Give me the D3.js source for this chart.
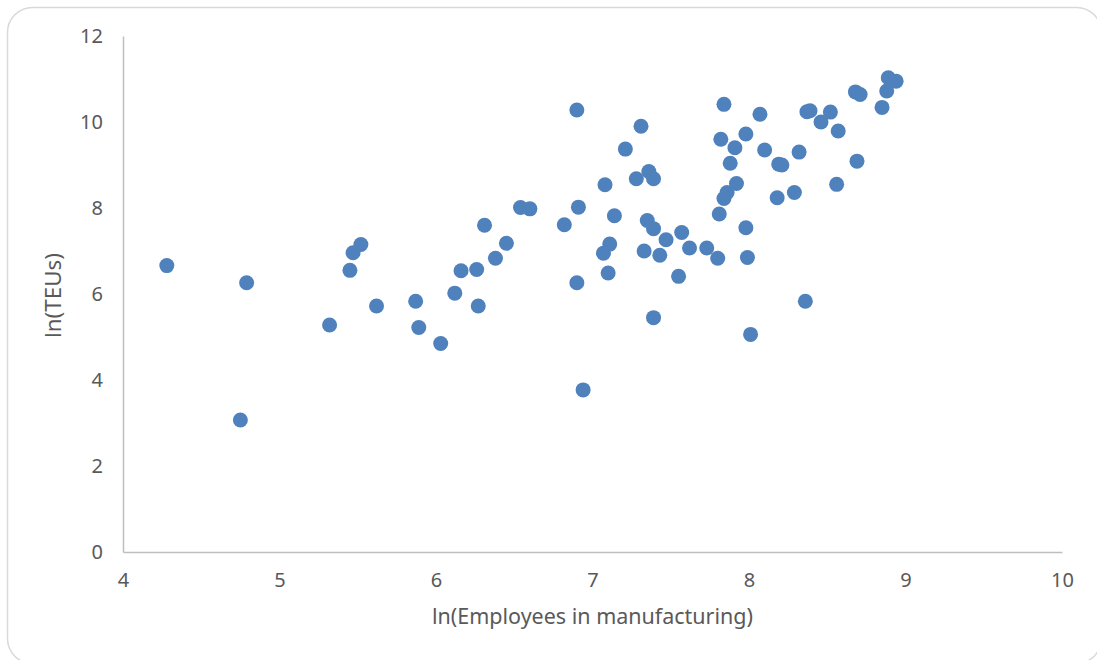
<!DOCTYPE html>
<html>
<head>
<meta charset="utf-8">
<script src="https://cdn.jsdelivr.net/npm/d3@7"></script>
<style>
  html, body { margin: 0; padding: 0; background: #ffffff; }
  svg { display: block; }
  text { font-family: "Noto Sans", "Open Sans", sans-serif; fill: #595959; }
</style>
</head>
<body>
<svg id="chart" width="1097" height="660"></svg>
<script>
// ---- Data ----
const lnEmployees = [
  4.28, 4.79, 4.75, 5.32, 5.45, 5.47, 5.52, 5.62, 5.87, 5.89,
  6.03, 6.12, 6.16, 6.26, 6.27, 6.38, 6.31, 6.45, 6.54, 6.60,
  6.82, 6.90, 6.91, 6.90, 6.94, 7.07, 7.08, 7.10, 7.11, 7.14,
  7.21, 7.28, 7.31, 7.33, 7.35, 7.36, 7.39, 7.39, 7.39, 7.43,
  7.47, 7.55, 7.57, 7.62, 7.73, 7.80, 7.81, 7.82, 7.84, 7.84,
  7.86, 7.88, 7.91, 7.92, 7.98, 7.98, 7.99, 8.01, 8.07, 8.10,
  8.18, 8.19, 8.21, 8.29, 8.32, 8.36, 8.37, 8.39, 8.46, 8.52,
  8.56, 8.57, 8.68, 8.69, 8.71, 8.85, 8.88, 8.89, 8.94
];
const lnTEUs = [
  6.66, 6.26, 3.07, 5.28, 6.55, 6.96, 7.15, 5.72, 5.83, 5.22,
  4.85, 6.02, 6.54, 6.57, 5.72, 6.83, 7.60, 7.18, 8.01, 7.98,
  7.61, 10.28, 8.02, 6.26, 3.77, 6.95, 8.54, 6.49, 7.16, 7.82,
  9.37, 8.68, 9.90, 7.00, 7.71, 8.85, 8.68, 7.52, 5.45, 6.90,
  7.26, 6.41, 7.43, 7.07, 7.07, 6.83, 7.86, 9.60, 10.41, 8.22,
  8.36, 9.04, 9.40, 8.57, 9.72, 7.54, 6.85, 5.06, 10.18, 9.35,
  8.24, 9.02, 9.00, 8.36, 9.30, 5.83, 10.24, 10.26, 10.00, 10.23,
  8.55, 9.79, 10.70, 9.09, 10.64, 10.34, 10.72, 11.03, 10.95
];
const xTicks = [4, 5, 6, 7, 8, 9, 10];
const yTicks = [0, 2, 4, 6, 8, 10, 12];
const xTitle = "ln(Employees in manufacturing)";
const yTitle = "ln(TEUs)";

// ---- Layout ----
const plot = { left: 123, right: 1062, top: 36, bottom: 552 };
const svg = d3.select("#chart");

// outer chart-area border (rounded, cut by window on right/bottom)
svg.append("rect")
  .attr("x", 7.5).attr("y", 7.5)
  .attr("width", 1094).attr("height", 656)
  .attr("rx", 25).attr("ry", 25)
  .attr("fill", "#ffffff")
  .attr("stroke", "#d9d9d9").attr("stroke-width", 1.5);

const x = d3.scaleLinear().domain([4, 10]).range([plot.left, plot.right]);
const y = d3.scaleLinear().domain([0, 12]).range([plot.bottom, plot.top]);

// axes
const xAxis = svg.append("g")
  .attr("transform", `translate(0,${plot.bottom})`)
  .call(d3.axisBottom(x).tickValues(xTicks).tickSize(0).tickPadding(20).tickFormat(d3.format("d")));
const yAxis = svg.append("g")
  .attr("transform", `translate(${plot.left},0)`)
  .call(d3.axisLeft(y).tickValues(yTicks).tickSize(0).tickPadding(20).tickFormat(d3.format("d")));

[xAxis, yAxis].forEach(g => {
  g.select(".domain").attr("stroke", "#bfbfbf").attr("stroke-width", 1.5);
  g.selectAll("text")
    .style("font-family", '"Noto Sans", "Open Sans", sans-serif')
    .style("font-size", "20px")
    .attr("fill", "#595959");
});
xAxis.selectAll("text").attr("dy", "0.35em").attr("y", 28);
yAxis.selectAll("text").attr("dy", "0.33em");

// points
svg.append("g")
  .selectAll("circle")
  .data(lnEmployees.map((v, i) => [v, lnTEUs[i]]))
  .join("circle")
  .attr("cx", d => x(d[0]))
  .attr("cy", d => y(d[1]))
  .attr("r", 7.5)
  .attr("fill", "#4f81bd");

// axis titles
const xt = svg.append("text")
  .attr("x", (plot.left + plot.right) / 2)
  .attr("y", 616)
  .attr("dy", "0.35em")
  .attr("text-anchor", "middle")
  .style("font-size", "19px")
  .text(xTitle);

const yt = svg.append("text")
  .attr("transform", `translate(53,${(253 + 338) / 2}) rotate(-90)`)
  .attr("dy", "0.35em")
  .attr("text-anchor", "middle")
  .style("font-size", "19px")
  .text(yTitle);

// fit title widths to the reference
const wx = xt.node().getComputedTextLength();
xt.style("font-size", (19 * 321 / wx).toFixed(2) + "px");
const wy = yt.node().getComputedTextLength();
yt.style("font-size", (19 * 85 / wy).toFixed(2) + "px");
</script>
</body>
</html>
